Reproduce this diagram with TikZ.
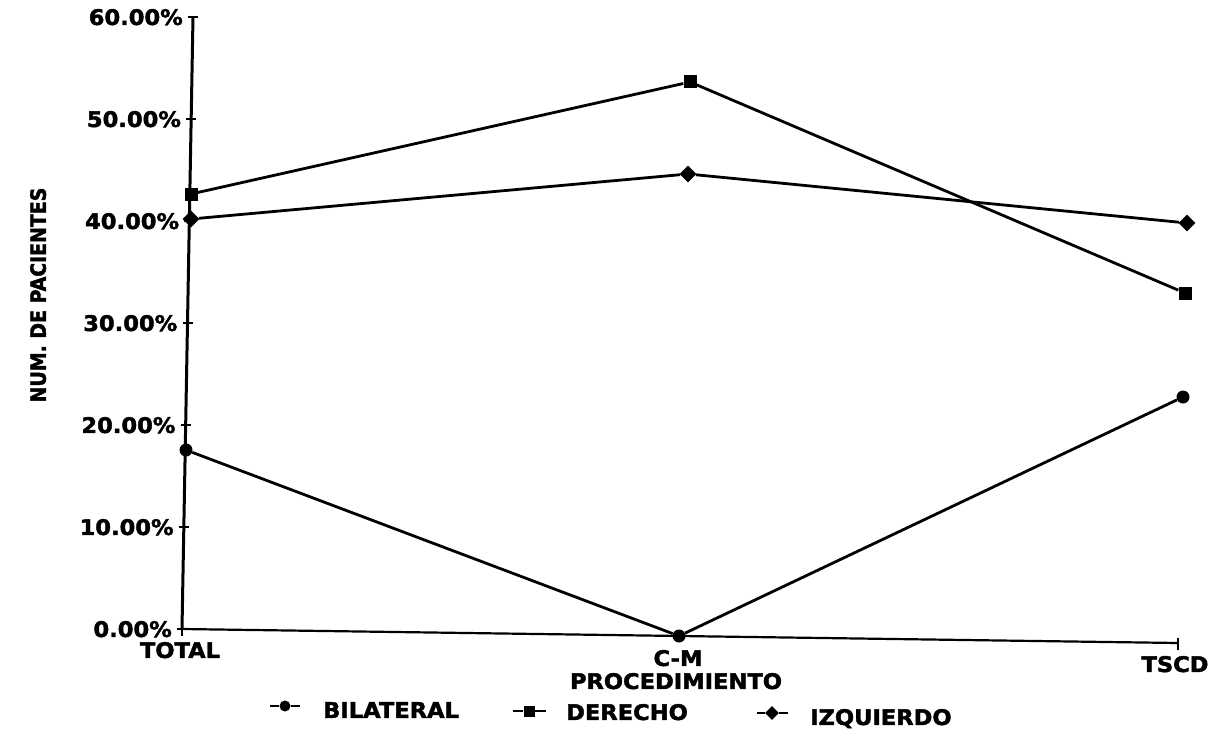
\documentclass[tikz,border=0pt]{standalone}
\usepackage{fontspec}
\newfontfamily\labfont[FakeStretch=1.05,BoldFeatures={FakeBold=2}]{DejaVu Sans}
\newfontfamily\ylabfont[FakeStretch=0.9,BoldFeatures={FakeBold=2}]{DejaVu Sans}
\usetikzlibrary{shapes.geometric,calc}
\begin{document}
\begin{tikzpicture}[x=1pt,y=-1pt,
  lab/.style={font=\labfont\bfseries\fontsize{21.5}{24}\selectfont, inner sep=0pt, text depth=0pt},
  ylab/.style={font=\ylabfont\bfseries\fontsize{21}{24}\selectfont, inner sep=0pt, text depth=0pt},
  yaxis/.style={line width=3pt},
  xaxis/.style={line width=2.2pt},
  tickmark/.style={line width=1.8pt},
  series/.style={line width=2.8pt, line join=round},
  mbil/.style={circle, fill=black, inner sep=0pt, minimum size=13pt},
  mder/.style={rectangle, fill=black, inner sep=0pt, minimum size=13pt},
  mizq/.style={diamond, fill=black, inner sep=0pt, minimum size=17pt},
  lbil/.style={circle, fill=black, inner sep=0pt, minimum size=11pt},
  lder/.style={rectangle, fill=black, inner sep=0pt, minimum size=11pt},
  lizq/.style={diamond, fill=black, inner sep=0pt, minimum size=14pt},
  legline/.style={line width=2.6pt}]
\useasboundingbox (0,0) rectangle (1217,733);
\fill[white] (0,0) rectangle (1217,733);

% axes
\coordinate (o) at (182,629);
\coordinate (ytop) at (193,17);
\coordinate (xend) at (1178,643);
\draw[yaxis] (o) -- (ytop);
\draw[xaxis] (o) -- (xend);
\draw[tickmark] ($(xend)+(0,-5)$) -- ($(xend)+(0,7)$);
\draw[tickmark] ($(o)+(0,0)$) -- ($(o)+(0,7)$);

\foreach \v/\t in {0/0,1/10,2/20,3/30,4/40,5/50,6/60}{
  \coordinate (t\v) at ($(o)!\v/6!(ytop)$);
  \draw[tickmark] ($(t\v)+(-5,0)$) -- ($(t\v)+(5,0)$);
  \node[lab, anchor=east] (tl\v) at ($(t\v)+(-10,0)$) {\t.00\%};
}

% axis labels
\node[lab] (xtotal) at (180,650) {TOTAL};
\node[lab] (xcm) at (678,658) {C-M};
\node[lab] (xtscd) at (1175,664) {TSCD};
\node[lab] (xtitle) at (676,681) {PROCEDIMIENTO};
\node[ylab, rotate=90] (ytitle) at (38,295) {NUM. DE PACIENTES};

% data markers
\node[mder] (D1) at (191,194) {};
\node[mder] (D2) at (690,82) {};
\node[mder] (D3) at (1185,293) {};
\node[mizq] (I1) at (191,219) {};
\node[mizq] (I2) at (688,174) {};
\node[mizq] (I3) at (1187,223) {};
\node[mbil] (B1) at (186,450) {};
\node[mbil] (B2) at (679,636) {};
\node[mbil] (B3) at (1183,397) {};

% series lines
\draw[series] (D1) -- (D2) -- (D3);
\draw[series] (I1) -- (I2) -- (I3);
\draw[series] (B1) -- (B2) -- (B3);

% legend
\node[lbil] (lgB) at (285,706) {};
\coordinate (lgBa) at (270,706);
\coordinate (lgBb) at (300,706);
\draw[legline] (lgBa) -- (lgB) -- (lgBb);
\node[lab, anchor=west] (ltB) at (323,710) {BILATERAL};

\node[lder] (lgD) at (529,711) {};
\coordinate (lgDa) at (513,711);
\coordinate (lgDb) at (546,711);
\draw[legline] (lgDa) -- (lgD) -- (lgDb);
\node[lab, anchor=west] (ltD) at (566,712) {DERECHO};

\node[lizq] (lgI) at (772,713) {};
\coordinate (lgIa) at (757,713);
\coordinate (lgIb) at (788,713);
\draw[legline] (lgIa) -- (lgI) -- (lgIb);
\node[lab, anchor=west] (ltI) at (810,717) {IZQUIERDO};
\end{tikzpicture}
\end{document}
